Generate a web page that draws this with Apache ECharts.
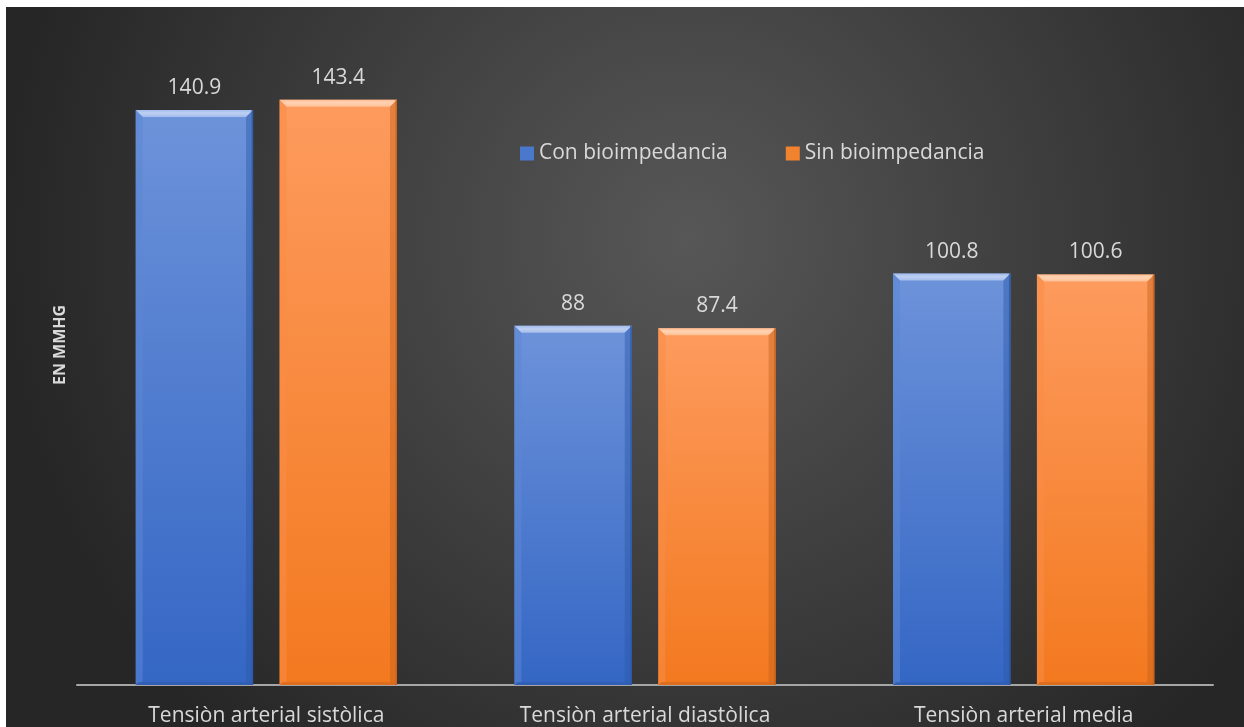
<!DOCTYPE html>
<html>
<head>
<meta charset="utf-8">
<script src="https://cdn.jsdelivr.net/npm/echarts@6/dist/echarts.min.js"></script>
<style>
  html, body { margin: 0; padding: 0; background: #ffffff; width: 1244px; height: 727px; overflow: hidden; }
  #chart { position: absolute; left: 6px; top: 7px; width: 1238px; height: 720px; }
</style>
</head>
<body>
<div id="chart"></div>
<script>
// Presión arterial media por grupo (mmHg)
const categories = ['Tensiòn arterial sistòlica', 'Tensiòn arterial diastòlica', 'Tensiòn arterial media'];
const seriesNames = ['Con bioimpedancia', 'Sin bioimpedancia'];
const conBioimpedancia = [140.9, 88, 100.8];
const sinBioimpedancia = [143.4, 87.4, 100.6];
const axisTitle = 'EN MMHG';

const palettes = [
  { top: '#6d93da', bottom: '#3466c4', cap: '#a9c1ee', capEdge: '#c7d7f5', left: '#5d86d3', right: '#2c58a8', foot: '#2f5cb0', icon: '#4a78cc' },
  { top: '#fd9b5e', bottom: '#f3791f', cap: '#ffc39a', capEdge: '#ffd9bd', left: '#f98d46', right: '#c5611b', foot: '#d4681c', icon: '#f1822e' }
];

// Bars with a bevelled face, laid out side by side inside each category band
function bevelBar(seriesIndex) {
  const pal = palettes[seriesIndex];
  return function (params, api) {
    const ci = api.value(0);
    const v = api.value(1);
    const top = api.coord([ci, v]);
    const base = api.coord([ci, 0]);
    const band = api.size([1, 0])[0];
    const w = band * 0.31;
    const gap = band * 0.07;
    const cx = top[0] + (seriesIndex === 0 ? -1 : 1) * (w + gap) / 2;
    const x0 = cx - w / 2, x1 = cx + w / 2;
    const y0 = top[1], y1 = base[1];
    const b = 7;
    return {
      type: 'group',
      children: [
        {
          type: 'rect',
          shape: { x: x0, y: y0, width: w, height: y1 - y0 },
          style: {
            fill: new echarts.graphic.LinearGradient(0, 0, 0, 1, [
              { offset: 0, color: pal.top },
              { offset: 1, color: pal.bottom }
            ])
          }
        },
        {
          type: 'polygon',
          shape: { points: [[x0, y0], [x1, y0], [x1 - b, y0 + b], [x0 + b, y0 + b]] },
          style: {
            fill: new echarts.graphic.LinearGradient(0, 0, 0, 1, [
              { offset: 0, color: pal.cap },
              { offset: 0.45, color: pal.capEdge },
              { offset: 1, color: pal.cap }
            ]),
            opacity: 0.9
          }
        },
        {
          type: 'polygon',
          shape: { points: [[x0, y0], [x0 + b, y0 + b], [x0 + b, y1 - 3], [x0, y1]] },
          style: { fill: pal.left, opacity: 0.55 }
        },
        {
          type: 'polygon',
          shape: { points: [[x1, y0], [x1 - b, y0 + b], [x1 - b, y1 - 3], [x1, y1]] },
          style: { fill: pal.right, opacity: 0.45 }
        },
        {
          type: 'polygon',
          shape: { points: [[x0, y1], [x1, y1], [x1 - 3, y1 - 3], [x0 + 3, y1 - 3]] },
          style: { fill: pal.foot, opacity: 0.7 }
        },
        {
          type: 'rect',
          shape: { x: x1 - 1.5, y: y0, width: 1.5, height: y1 - y0 },
          style: { fill: pal.right, opacity: 0.8 }
        },
        {
          type: 'text',
          x: cx,
          y: y0 - 22,
          style: {
            text: String(v),
            fill: '#d9d9d9',
            fontSize: 21,
            fontFamily: 'Open Sans',
            align: 'center',
            verticalAlign: 'middle'
          }
        }
      ]
    };
  };
}

function toPairs(values) {
  return values.map((v, i) => [i, v]);
}

const chart = echarts.init(document.getElementById('chart'));
chart.setOption({
  backgroundColor: {
    type: 'radial', x: 0.55, y: 0.32, r: 0.95,
    colorStops: [
      { offset: 0, color: '#575757' },
      { offset: 1, color: '#262626' }
    ]
  },
  animation: false,
  textStyle: { fontFamily: 'Open Sans' },
  legend: {
    left: 514,
    top: 136,
    padding: 0,
    itemWidth: 14,
    itemHeight: 14,
    itemGap: 58,
    icon: 'rect',
    textStyle: { color: '#d9d9d9', fontSize: 21, fontFamily: 'Open Sans' },
    data: seriesNames
  },
  grid: { left: 71, right: 31, top: 25, bottom: 42, containLabel: false },
  xAxis: {
    type: 'category',
    data: categories,
    axisLine: { show: true, lineStyle: { color: '#a6a6a6', width: 2 } },
    axisTick: { show: false },
    axisLabel: { color: '#d9d9d9', fontSize: 21, margin: 21, fontFamily: 'Open Sans' }
  },
  yAxis: {
    type: 'value',
    min: 0,
    max: 160,
    interval: 20,
    axisLine: { show: false },
    axisTick: { show: false },
    axisLabel: { show: false },
    splitLine: { show: false }
  },
  graphic: [
    {
      type: 'text',
      x: 54,
      y: 338,
      rotation: Math.PI / 2,
      style: {
        text: axisTitle,
        fill: '#d9d9d9',
        fontSize: 16,
        fontWeight: 'bold',
        fontFamily: 'Open Sans',
        align: 'center',
        verticalAlign: 'middle'
      }
    }
  ],
  series: [
    {
      name: seriesNames[0],
      type: 'custom',
      renderItem: bevelBar(0),
      encode: { x: 0, y: 1 },
      itemStyle: { color: palettes[0].icon },
      data: toPairs(conBioimpedancia)
    },
    {
      name: seriesNames[1],
      type: 'custom',
      renderItem: bevelBar(1),
      encode: { x: 0, y: 1 },
      itemStyle: { color: palettes[1].icon },
      data: toPairs(sinBioimpedancia)
    }
  ]
});
</script>
</body>
</html>
